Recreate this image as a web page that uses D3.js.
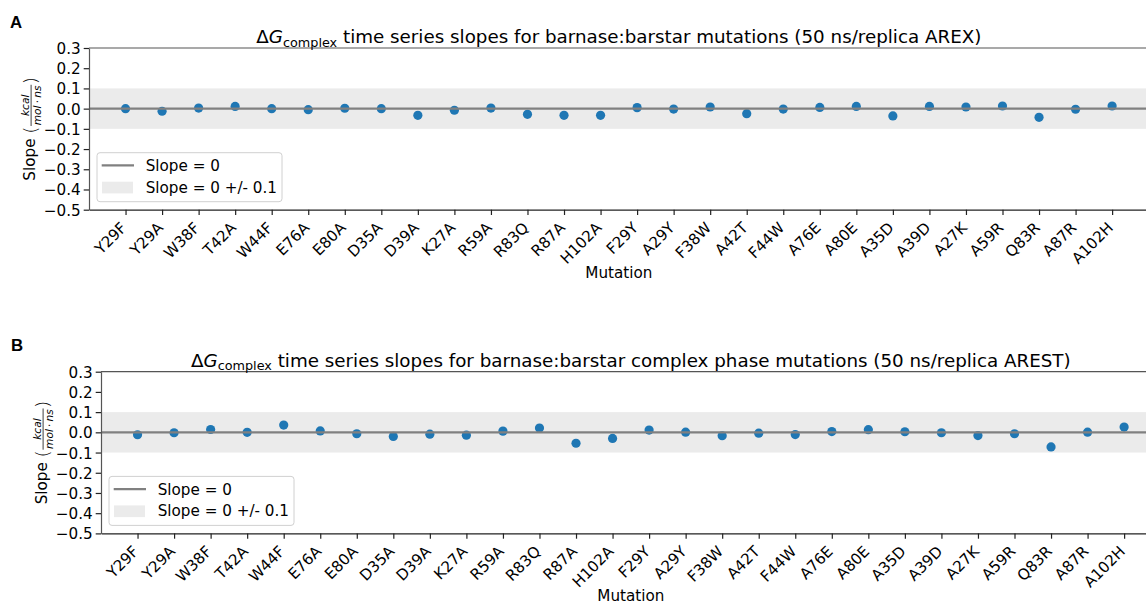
<!DOCTYPE html>
<html>
<head>
<meta charset="utf-8">
<script src="https://cdn.jsdelivr.net/npm/d3@7"></script>
<style>
body { margin: 0; background: #fff; }
svg { display: block; }
</style>
</head>
<body>
<svg></svg>
<script>
// Data
var mutations = ["Y29F", "Y29A", "W38F", "T42A", "W44F", "E76A", "E80A", "D35A", "D39A", "K27A",
	"R59A", "R83Q", "R87A", "H102A", "F29Y", "A29Y", "F38W", "A42T", "F44W", "A76E",
	"A80E", "A35D", "A39D", "A27K", "A59R", "Q83R", "A87R", "A102H"];

var slopesArex = [0.000, -0.013, 0.003, 0.011, 0.000, -0.005, 0.002, 0.000, -0.033, -0.008,
	0.003, -0.028, -0.033, -0.033, 0.005, -0.002, 0.008, -0.025, -0.002, 0.006,
	0.011, -0.036, 0.011, 0.008, 0.013, -0.043, -0.003, 0.013];

var slopesArest = [-0.012, -0.002, 0.014, 0.000, 0.036, 0.007, -0.007, -0.020, -0.009, -0.014,
	0.006, 0.021, -0.054, -0.030, 0.011, 0.001, -0.017, -0.004, -0.011, 0.004,
	0.013, 0.003, -0.002, -0.016, -0.007, -0.072, 0.001, 0.026];

var yTicks = [0.3, 0.2, 0.1, 0.0, -0.1, -0.2, -0.3, -0.4, -0.5];
var bandHalfWidth = 0.1;

var titles = [
	" time series slopes for barnase:barstar mutations (50 ns/replica AREX)",
	" time series slopes for barnase:barstar complex phase mutations (50 ns/replica AREST)"
];

var WIDTH = 1146, HEIGHT = 605;
var FONT = "'DejaVu Sans', sans-serif";
var TICK_FS = 15.2, TITLE_FS = 18.3;
var X_UNIT = 36.54, // distance between neighbouring mutations
	PLOT_W = X_UNIT * (mutations.length + 1),
	PLOT_H = 161.7,
	TICK_LEN = 5.3;

// Where each panel's axes sit
var panels = [
	{label: "A", labelX: 10, labelY: 28.3, left: 89, top: 48, values: slopesArex, title: titles[0]},
	{label: "B", labelX: 11, labelY: 351, left: 101, top: 371.7, values: slopesArest, title: titles[1]}
];

var svg = d3.select("svg")
	.attr("width", WIDTH)
	.attr("height", HEIGHT)
	.style("font-family", FONT);

panels.forEach(drawPanel);

function drawPanel(p) {
	var x = d3.scaleLinear().domain([-1, mutations.length]).range([0, PLOT_W]);
	var y = d3.scaleLinear().domain([-0.5, 0.3]).range([PLOT_H, 0]);

	var g = svg.append("g")
		.attr("transform", "translate(" + p.left + "," + p.top + ")");

	// Grey band for slope = 0 +/- 0.1
	g.append("rect")
		.attr("x", 0)
		.attr("width", PLOT_W)
		.attr("y", y(bandHalfWidth))
		.attr("height", y(-bandHalfWidth) - y(bandHalfWidth))
		.attr("fill", "#ebebeb");

	g.selectAll("circle.pt")
		.data(p.values)
	  .enter().append("circle")
		.attr("class", "pt")
		.attr("cx", function(d, i) { return x(i); })
		.attr("cy", function(d) { return y(d); })
		.attr("r", 4.6)
		.attr("fill", "#1f77b4");

	// Slope = 0 line
	g.append("line")
		.attr("x1", 0).attr("x2", PLOT_W)
		.attr("y1", y(0)).attr("y2", y(0))
		.attr("stroke", "#808080")
		.attr("stroke-width", 2.2);

	// top spine
	g.append("line")
		.attr("x1", 0).attr("x2", PLOT_W)
		.attr("y1", 0).attr("y2", 0)
		.attr("stroke", "#555")
		.attr("stroke-width", 1.2);

	// x axis
	var xAxis = g.append("g")
		.attr("transform", "translate(0," + PLOT_H + ")")
		.call(d3.axisBottom(x)
			.tickValues(d3.range(mutations.length))
			.tickFormat(function(i) { return mutations[i]; })
			.tickSize(TICK_LEN)
			.tickSizeOuter(0));
	xAxis.attr("font-family", FONT).attr("font-size", TICK_FS);
	xAxis.select(".domain").attr("stroke", "#222").attr("stroke-width", 1.2);
	xAxis.selectAll(".tick line").attr("stroke", "#222").attr("stroke-width", 1.2);
	xAxis.selectAll(".tick text")
		.attr("y", null)
		.attr("dy", null)
		.attr("fill", "#000")
		.attr("text-anchor", "end")
		.attr("transform", "translate(1.5,19) rotate(-45)");

	// y axis
	var yAxis = g.append("g")
		.call(d3.axisLeft(y)
			.tickValues(yTicks)
			.tickFormat(d3.format(".1f"))
			.tickSize(TICK_LEN)
			.tickPadding(3)
			.tickSizeOuter(0));
	yAxis.attr("font-family", FONT).attr("font-size", TICK_FS);
	yAxis.select(".domain").attr("stroke", "#555").attr("stroke-width", 1.2);
	yAxis.selectAll(".tick line").attr("stroke", "#222").attr("stroke-width", 1.2);
	yAxis.selectAll(".tick text").attr("fill", "#000").attr("dy", "0.36em");

	// Title with Delta G_complex
	var title = svg.append("text")
		.attr("x", p.left + PLOT_W / 2)
		.attr("y", p.top - 5)
		.attr("text-anchor", "middle")
		.attr("font-size", TITLE_FS)
		.attr("fill", "#000");
	title.append("tspan").text("\u0394");
	title.append("tspan").attr("font-style", "italic").text("G");
	title.append("tspan").attr("font-size", TITLE_FS * 0.7).attr("dy", 3.5).text("complex");
	title.append("tspan").attr("dy", -3.5).text(p.title);

	// Panel letter
	svg.append("text")
		.attr("x", p.labelX)
		.attr("y", p.labelY)
		.attr("font-family", "'Liberation Sans', Arial, sans-serif")
		.attr("font-weight", "bold")
		.attr("font-size", 16.8)
		.text(p.label);

	// x label
	svg.append("text")
		.attr("x", p.left + PLOT_W / 2)
		.attr("y", p.top + PLOT_H + 68)
		.attr("text-anchor", "middle")
		.attr("font-size", TICK_FS)
		.text("Mutation");

	drawYLabel(p.left - 54, p.top + PLOT_H / 2);
	drawLegend(g);
}

function drawLegend(g) {
	var lg = g.append("g")
		.attr("transform", "translate(8," + (PLOT_H - 57) + ")");

	lg.append("rect")
		.attr("width", 185)
		.attr("height", 49)
		.attr("rx", 3)
		.attr("fill", "#fff")
		.attr("fill-opacity", 0.8)
		.attr("stroke", "#d0d0d0")
		.attr("stroke-width", 1);

	lg.append("line")
		.attr("x1", 4.7).attr("x2", 37)
		.attr("y1", 12.7).attr("y2", 12.7)
		.attr("stroke", "#808080")
		.attr("stroke-width", 2.2);

	lg.append("rect")
		.attr("x", 5).attr("width", 31)
		.attr("y", 29).attr("height", 11.7)
		.attr("fill", "#ebebeb");

	lg.append("text")
		.attr("x", 48.7).attr("y", 18.7)
		.attr("font-size", TICK_FS)
		.text("Slope = 0");

	lg.append("text")
		.attr("x", 48.7).attr("y", 40)
		.attr("font-size", TICK_FS)
		.text("Slope = 0 +/- 0.1");
}

// "Slope (kcal / mol·ns)" with a stacked fraction, rotated
function drawYLabel(cx, cy) {
	var lab = svg.append("g");
	var pos = 0;
	var fracFs = TICK_FS * 0.7;

	var slope = lab.append("text")
		.attr("x", 0).attr("y", 0)
		.attr("font-size", TICK_FS)
		.text("Slope");
	pos = slope.node().getComputedTextLength() + 4.8;

	var lp = lab.append("text")
		.attr("x", pos).attr("y", 2.4)
		.attr("font-size", 18.5)
		.attr("font-weight", 200)
		.text("(");
	pos += lp.node().getComputedTextLength() + 0.5;

	var num = lab.append("text")
		.attr("font-size", fracFs)
		.attr("font-style", "italic")
		.attr("text-anchor", "middle")
		.text("kcal");
	var den = lab.append("text")
		.attr("font-size", fracFs)
		.attr("text-anchor", "middle");
	den.append("tspan").attr("font-style", "italic").text("mol");
	den.append("tspan").text("\u2009\u22c5\u2009");
	den.append("tspan").attr("font-style", "italic").text("ns");

	var fw = Math.max(num.node().getComputedTextLength(), den.node().getComputedTextLength()) + 1.5;
	var fc = pos + fw / 2;
	num.attr("x", fc).attr("y", -6.2);
	den.attr("x", fc).attr("y", 5.6);
	lab.append("line")
		.attr("x1", pos).attr("x2", pos + fw)
		.attr("y1", -3.9).attr("y2", -3.9)
		.attr("stroke", "#000")
		.attr("stroke-width", 0.75);
	pos += fw + 0.5;

	var rp = lab.append("text")
		.attr("x", pos).attr("y", 2.4)
		.attr("font-size", 18.5)
		.attr("font-weight", 200)
		.text(")");
	pos += rp.node().getComputedTextLength();

	lab.attr("transform", "translate(" + cx + "," + (cy + pos / 2) + ") rotate(-90)");
}
</script>
</body>
</html>
